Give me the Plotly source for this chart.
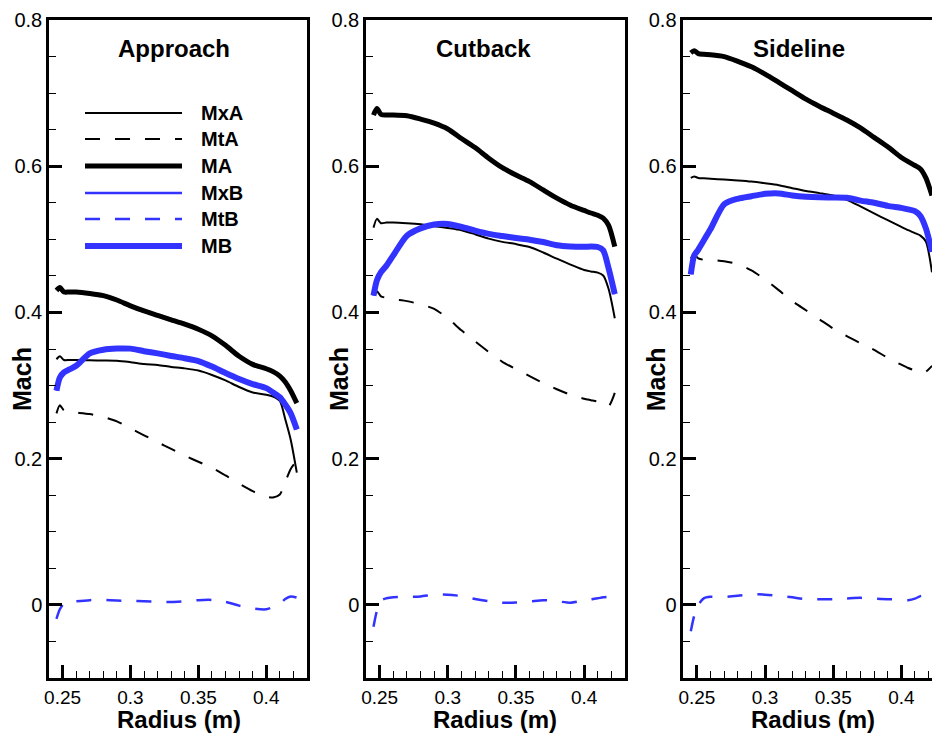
import plotly.graph_objects as go

# ---------------- data ----------------
radius = [0.2455, 0.248, 0.251, 0.255, 0.26, 0.27, 0.28, 0.29, 0.30, 0.31, 0.32, 0.33,
          0.34, 0.35, 0.36, 0.37, 0.38, 0.39, 0.40, 0.405, 0.41, 0.414, 0.418, 0.4225]

series_names = ["MxA", "MtA", "MA", "MxB", "MtB", "MB"]
panel_titles = ["Approach", "Cutback", "Sideline"]

# Approach
app_MxA = [0.336, 0.340, 0.335, 0.335, 0.335, 0.3345, 0.3343, 0.334, 0.332, 0.3295, 0.328, 0.3255,
           0.3235, 0.3205, 0.3145, 0.307, 0.298, 0.2905, 0.2875, 0.285, 0.279, 0.254, 0.226, 0.181]
app_MtA = [0.262, 0.273, 0.266, 0.264, 0.263, 0.261, 0.257, 0.251, 0.2415, 0.232, 0.2225, 0.2133,
           0.2041, 0.1958, 0.1875, 0.177, 0.1658, 0.1555, 0.148, 0.147, 0.151, 0.168, 0.186, 0.197]
app_MA = [0.430, 0.434, 0.428, 0.428, 0.428, 0.426, 0.423, 0.417, 0.409, 0.402, 0.396, 0.390,
          0.384, 0.377, 0.368, 0.355, 0.340, 0.329, 0.323, 0.319, 0.313, 0.305, 0.293, 0.276]
app_MxB = [0.293, 0.311, 0.318, 0.322, 0.327, 0.344, 0.349, 0.3506, 0.3505, 0.347, 0.344, 0.3405,
           0.3373, 0.3335, 0.326, 0.3172, 0.309, 0.302, 0.2965, 0.2905, 0.284, 0.274, 0.262, 0.240]
app_MtB = [-0.019, -0.006, 0.002, 0.004, 0.005, 0.0065, 0.0068, 0.006, 0.0055, 0.005, 0.0045, 0.004,
           0.005, 0.0065, 0.0068, 0.004, -0.001, -0.005, -0.006, -0.003, 0.001, 0.008, 0.0115, 0.010]
app_MB = [0.293, 0.311, 0.318, 0.322, 0.327, 0.344, 0.349, 0.3506, 0.3505, 0.347, 0.344, 0.3405,
          0.3373, 0.3335, 0.326, 0.3172, 0.309, 0.302, 0.2965, 0.2905, 0.284, 0.274, 0.262, 0.240]

# Cutback
cut_MxA = [0.516, 0.528, 0.522, 0.523, 0.523, 0.522, 0.5205, 0.518, 0.5155, 0.5125, 0.507, 0.501,
           0.4965, 0.4935, 0.4895, 0.482, 0.4735, 0.4655, 0.458, 0.456, 0.4545, 0.4505, 0.432, 0.392]
cut_MtA = [0.424, 0.429, 0.422, 0.420, 0.418, 0.4155, 0.411, 0.405, 0.392, 0.3755, 0.3605, 0.346,
           0.3325, 0.3225, 0.313, 0.3035, 0.295, 0.2875, 0.282, 0.280, 0.278, 0.274, 0.272, 0.290]
cut_MA = [0.670, 0.679, 0.671, 0.670, 0.670, 0.669, 0.6645, 0.659, 0.651, 0.638, 0.6255, 0.611,
          0.598, 0.588, 0.579, 0.5675, 0.5563, 0.5466, 0.5395, 0.536, 0.533, 0.529, 0.519, 0.490]
cut_MxB = [0.423, 0.444, 0.455, 0.464, 0.478, 0.505, 0.515, 0.5203, 0.521, 0.517, 0.512, 0.5075,
           0.5045, 0.5018, 0.4995, 0.4963, 0.492, 0.4902, 0.4897, 0.4902, 0.4895, 0.485, 0.460, 0.425]
cut_MtB = [-0.030, -0.008, 0.006, 0.009, 0.0105, 0.011, 0.0115, 0.014, 0.014, 0.012, 0.008, 0.005,
           0.003, 0.0032, 0.0045, 0.0064, 0.005, 0.003, 0.006, 0.0075, 0.009, 0.0105, 0.011, 0.011]
cut_MB = [0.423, 0.444, 0.455, 0.464, 0.478, 0.505, 0.515, 0.5203, 0.521, 0.517, 0.512, 0.5075,
          0.5045, 0.5018, 0.4995, 0.4963, 0.492, 0.4902, 0.4897, 0.4902, 0.4895, 0.485, 0.460, 0.425]

# Sideline
side_MxA = [0.584, 0.586, 0.584, 0.5835, 0.583, 0.5817, 0.5805, 0.579, 0.5767, 0.5741, 0.570, 0.566,
            0.5632, 0.560, 0.554, 0.545, 0.5355, 0.5262, 0.517, 0.5125, 0.5085, 0.505, 0.497, 0.455]
side_MtA = [0.474, 0.479, 0.474, 0.472, 0.472, 0.470, 0.466, 0.4575, 0.445, 0.4305, 0.4155, 0.403,
            0.3905, 0.378, 0.3675, 0.358, 0.3488, 0.338, 0.3285, 0.324, 0.3205, 0.318, 0.319, 0.327]
side_MA = [0.755, 0.758, 0.754, 0.753, 0.7525, 0.750, 0.7435, 0.736, 0.726, 0.7147, 0.7033, 0.6918,
           0.6818, 0.6726, 0.6632, 0.6524, 0.6395, 0.6266, 0.612, 0.6062, 0.601, 0.5963, 0.584, 0.560]
side_MxB = [0.452, 0.478, 0.486, 0.4985, 0.514, 0.548, 0.5555, 0.559, 0.5622, 0.5628, 0.560, 0.5583,
            0.5575, 0.5573, 0.5568, 0.553, 0.550, 0.5458, 0.543, 0.541, 0.5385, 0.532, 0.515, 0.483]
side_MtB = [-0.036, -0.015, 0.000, 0.009, 0.011, 0.011, 0.0125, 0.0145, 0.014, 0.0125, 0.0103, 0.008,
            0.0078, 0.0078, 0.0088, 0.0096, 0.0085, 0.0078, 0.007, 0.0065, 0.0085, 0.012, 0.012, 0.0095]
side_MB = [0.452, 0.478, 0.486, 0.4985, 0.514, 0.548, 0.5555, 0.559, 0.5622, 0.5628, 0.560, 0.5583,
           0.5575, 0.5573, 0.5568, 0.553, 0.550, 0.5458, 0.543, 0.541, 0.5385, 0.532, 0.515, 0.483]

x_tickvals = [0.25, 0.3, 0.35, 0.4]
x_ticktext = ["0.25", "0.3", "0.35", "0.4"]
y_tickvals = [0, 0.2, 0.4, 0.6, 0.8]
y_ticktext = ["0", "0.2", "0.4", "0.6", "0.8"]

# ---------------- styling ----------------
W, H = 932, 734
BLUE = "#3333ff"
DASH = "15px,15px"
styles = {
    "MxA": dict(color="black", width=2, dash="solid"),
    "MtA": dict(color="black", width=2, dash=DASH),
    "MA": dict(color="black", width=5, dash="solid"),
    "MxB": dict(color=BLUE, width=2.5, dash="solid"),
    "MtB": dict(color=BLUE, width=2.5, dash=DASH),
    "MB": dict(color=BLUE, width=6, dash="solid"),
}

panels = [
    [app_MxA, app_MtA, app_MA, app_MxB, app_MtB, app_MB],
    [cut_MxA, cut_MtA, cut_MA, cut_MxB, cut_MtB, cut_MB],
    [side_MxA, side_MtA, side_MA, side_MxB, side_MtB, side_MB],
]

px_left = [49, 366, 683.3]
px_right = [307, 625, 932]
x_ranges = [[0.24, 0.43], [0.24, 0.43], [0.24, 0.4225]]
top_px, bot_px = 20, 678
ydom = [1 - bot_px / H, 1 - top_px / H]

FONT = "Liberation Sans, Arial, Helvetica, sans-serif"
fig = go.Figure()

for i, pdata in enumerate(panels):
    xa = "x" if i == 0 else f"x{i+1}"
    ya = "y" if i == 0 else f"y{i+1}"
    for name, vals in zip(series_names, pdata):
        st = dict(styles[name])
        st["shape"] = "spline"
        st["smoothing"] = 0.7
        fig.add_trace(go.Scatter(x=radius, y=vals, mode="lines", name=name,
                                 line=st, xaxis=xa, yaxis=ya,
                                 showlegend=False, hoverinfo="skip"))
    xkey = "xaxis" if i == 0 else f"xaxis{i+1}"
    ykey = "yaxis" if i == 0 else f"yaxis{i+1}"
    fig.layout[xkey] = dict(
        domain=[px_left[i] / W, px_right[i] / W], range=x_ranges[i], anchor=ya,
        automargin=False,
        showgrid=False, zeroline=False, showline=True, linecolor="black", linewidth=2.5,
        mirror=True, ticks="inside", ticklen=13, tickwidth=2.5, tickcolor="black",
        tickvals=x_tickvals, ticktext=x_ticktext,
        tickfont=dict(family=FONT, size=19, color="black"),
        minor=dict(dtick=0.01, tick0=0, ticks="inside", ticklen=7, tickwidth=1.2,
                   tickcolor="black", showgrid=False),
    )
    fig.layout[ykey] = dict(
        domain=ydom, range=[-0.1, 0.8], anchor=xa,
        automargin=False,
        showgrid=False, zeroline=False, showline=True, linecolor="black", linewidth=2.5,
        mirror=(i < 2), ticks="inside", ticklen=13, tickwidth=2.5, tickcolor="black",
        tickvals=y_tickvals, ticktext=y_ticktext,
        tickfont=dict(family=FONT, size=20, color="black"),
        minor=dict(dtick=0.05, tick0=0, ticks="inside", ticklen=7, tickwidth=1.2,
                   tickcolor="black", showgrid=False),
    )

annotations = []
title_x = [0.3321, 0.3264, 0.325]
for i, t in enumerate(panel_titles):
    xa = "x" if i == 0 else f"x{i+1}"
    ya = "y" if i == 0 else f"y{i+1}"
    annotations.append(dict(text=f"<b>{t}</b>", x=title_x[i], y=0.7604, xref=xa, yref=ya,
                            showarrow=False, xanchor="center", yanchor="middle",
                            font=dict(family=FONT, size=24, color="black")))
    cx = (px_left[i] + (px_left[i] + 259)) / 2 / W
    annotations.append(dict(text="<b>Radius (m)</b>", x=cx, y=1 - 719 / H, xref="paper", yref="paper",
                            showarrow=False, xanchor="center", yanchor="middle",
                            font=dict(family=FONT, size=24, color="black")))
    annotations.append(dict(text="<b>Mach</b>", x=(px_left[i] - 27) / W, y=1 - 379 / H,
                            xref="paper", yref="paper", textangle=-90,
                            showarrow=False, xanchor="center", yanchor="middle",
                            font=dict(family=FONT, size=25, color="black")))

# manual legend in first panel
shapes = []
leg_rows_px = [113, 139, 166, 193, 219, 246]
for name, ypx in zip(series_names, leg_rows_px):
    yy = 1 - ypx / H
    st = styles[name]
    shapes.append(dict(type="line", xref="paper", yref="paper", x0=85 / W, x1=182 / W, y0=yy, y1=yy,
                       line=dict(color=st["color"], width=st["width"], dash=st["dash"])))
    annotations.append(dict(text=f"<b>{name}</b>", x=199 / W, y=yy, xref="paper", yref="paper",
                            showarrow=False, xanchor="left", yanchor="middle",
                            font=dict(family=FONT, size=20, color="black")))

fig.update_layout(
    template="none",
    width=W, height=H, margin=dict(l=0, r=0, t=0, b=0, pad=0, autoexpand=False),
    paper_bgcolor="white", plot_bgcolor="white",
    annotations=annotations, shapes=shapes, showlegend=False,
)

fig.write_html("out.html", config={"displayModeBar": False},
               post_script="document.body.style.margin='0';document.body.style.overflow='hidden';")
